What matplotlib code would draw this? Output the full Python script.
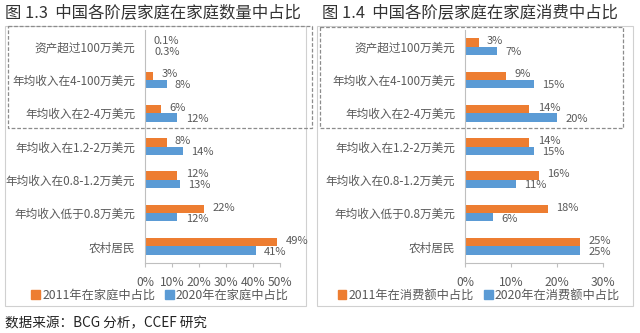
import matplotlib
matplotlib.use("Agg")
import matplotlib.pyplot as plt
from matplotlib.patches import Rectangle
import numpy as np

plt.rcParams['font.family'] = ['Noto Sans CJK SC', 'DejaVu Sans']

# ======================
# DATA
# ======================
categories = ["资产超过100万美元", "年均收入在4-100万美元", "年均收入在2-4万美元",
              "年均收入在1.2-2万美元", "年均收入在0.8-1.2万美元", "年均收入低于0.8万美元",
              "农村居民"]

count_2011 = [0.1, 3, 6, 8, 12, 22, 49]
count_2020 = [0.3, 8, 12, 14, 13, 12, 41]
count_lbl_2011 = ["0.1%", "3%", "6%", "8%", "12%", "22%", "49%"]
count_lbl_2020 = ["0.3%", "8%", "12%", "14%", "13%", "12%", "41%"]

cons_2011 = [3, 9, 14, 14, 16, 18, 25]
cons_2020 = [7, 15, 20, 15, 11, 6, 25]

left_ticks = [0, 10, 20, 30, 40, 50]
right_ticks = [0, 10, 20, 30]

ORANGE = "#ED7D31"
BLUE = "#5B9BD5"
GREY = "#595959"

W, H = 640, 333
fig = plt.figure(figsize=(W / 100, H / 100), dpi=100)
fig.patch.set_facecolor("white")


def fx(px):
    return px / W


def fy(py):
    return 1 - py / H


# overlay for frames (pixel coordinates)
ov = fig.add_axes([0, 0, 1, 1], zorder=0)
ov.set_xlim(0, W)
ov.set_ylim(H, 0)
ov.axis("off")
ov.patch.set_alpha(0)

# solid panel borders
ov.add_patch(Rectangle((5, 26), 301, 280, fill=False, ec="#D0D0D0", lw=0.8))
ov.add_patch(Rectangle((317, 26), 316, 280, fill=False, ec="#D0D0D0", lw=0.8))
# dashed boxes around top three rows
ov.add_patch(Rectangle((8, 26), 304, 102, fill=False, ec="#8C8C8C", lw=0.9, ls=(0, (3, 1.5))))
ov.add_patch(Rectangle((320, 27), 303, 101, fill=False, ec="#8C8C8C", lw=0.9, ls=(0, (3, 1.5))))


def panel(x0, x1, xmax, ticks, v11, v20, l11, l20):
    ax = fig.add_axes([fx(x0), fy(263), fx(x1) - fx(x0), fy(30) - fy(263)], zorder=2)
    ax.patch.set_alpha(0)
    y = np.arange(len(categories))
    h = 0.25
    ax.barh(y - h / 2, v11, height=h, color=ORANGE)
    ax.barh(y + h / 2, v20, height=h, color=BLUE)
    ax.set_xlim(0, xmax)
    ax.set_ylim(len(categories) - 0.5, -0.5)
    ax.set_yticks(y)
    ax.set_yticklabels(categories, fontsize=8.4, color=GREY)
    ax.tick_params(axis="y", length=0, pad=7)
    ax.set_xticks(ticks)
    ax.set_xticklabels([f"{t}%" for t in ticks], fontsize=8.7, color=GREY)
    ax.tick_params(axis="x", length=3, color="#BFBFBF", pad=6)
    for s in ["top", "right"]:
        ax.spines[s].set_visible(False)
    ax.spines["left"].set_color("#BFBFBF")
    ax.spines["bottom"].set_color("#BFBFBF")
    for i in range(len(categories)):
        ax.annotate(l11[i], (v11[i], y[i] - h / 2), xytext=(6, 1), textcoords="offset points",
                    va="center", ha="left", fontsize=8, color=GREY)
        ax.annotate(l20[i], (v20[i], y[i] + h / 2), xytext=(6, -1), textcoords="offset points",
                    va="center", ha="left", fontsize=8, color=GREY)
    return ax


panel(145, 280, 50, left_ticks, count_2011, count_2020, count_lbl_2011, count_lbl_2020)
panel(465, 603, 30, right_ticks, cons_2011, cons_2020,
      [f"{v}%" for v in cons_2011], [f"{v}%" for v in cons_2020])

# legends
def legend(cx, labels):
    handles = [Rectangle((0, 0), 1, 1, color=ORANGE), Rectangle((0, 0), 1, 1, color=BLUE)]
    fig.legend(handles, labels, loc="center", bbox_to_anchor=(fx(cx), fy(295)), ncol=2,
               frameon=False, fontsize=8.8, labelcolor=GREY, handlelength=0.7,
               handleheight=0.7, handletextpad=0.2, columnspacing=0.8)


legend(160, ["2011年在家庭中占比", "2020年在家庭中占比"])
legend(479, ["2011年在消费额中占比", "2020年在消费额中占比"])

# titles and source
fig.text(fx(5), fy(13), "图 1.3  中国各阶层家庭在家庭数量中占比", fontsize=11.8,
         color="#333333", va="center", ha="left")
fig.text(fx(322), fy(13), "图 1.4  中国各阶层家庭在家庭消费中占比", fontsize=11.8,
         color="#333333", va="center", ha="left")
fig.text(fx(5), fy(323), "数据来源：BCG 分析，CCEF 研究", fontsize=9.8,
         color="#222222", va="center", ha="left")

plt.savefig("out.png", dpi=100)
plt.close()
